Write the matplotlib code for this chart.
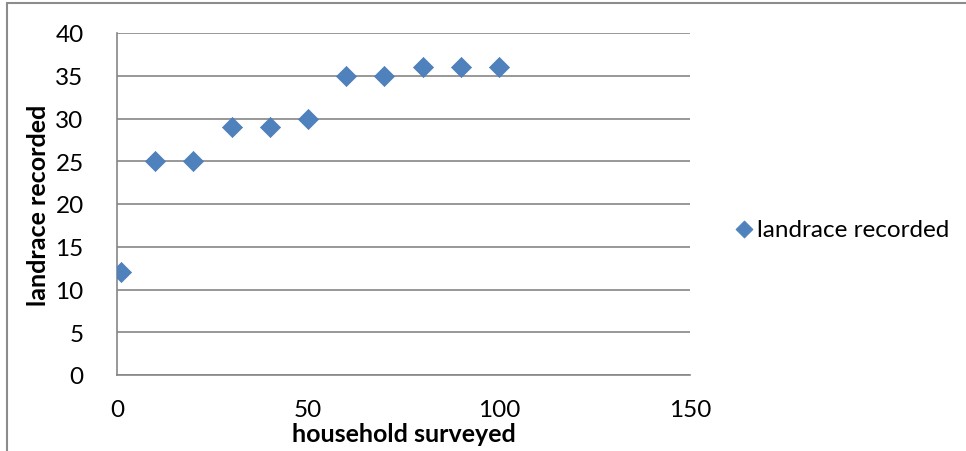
"""Scatter of landraces recorded vs households surveyed (Excel style)."""

import matplotlib
matplotlib.use("Agg")
import matplotlib.pyplot as plt
from matplotlib.patches import Rectangle

households = [1, 10, 20, 30, 40, 50, 60, 70, 80, 90, 100]
landraces = [12, 25, 25, 29, 29, 30, 35, 35, 36, 36, 36]
x_ticks = [0, 50, 100, 150]
y_ticks = [0, 5, 10, 15, 20, 25, 30, 35, 40]

plt.rcParams['font.family'] = ['Lato', 'DejaVu Sans']

fig = plt.figure(figsize=(9.66, 4.52), dpi=100)
ax = fig.add_axes([117 / 966, 1 - 376 / 452, 573 / 966, 342 / 452])

# outer chart border (only left/top visible in the reference)
fig.patches.append(Rectangle((7 / 966, -0.2), 1.2, 1.2 - 4 / 452,
                             transform=fig.transFigure, fill=False,
                             edgecolor='#8c8c8c', linewidth=1.5))

ax.scatter(households, landraces, marker='D', s=105, color='#4F81BD',
           edgecolors='#4A7EBB', linewidths=0.5, zorder=3,
           label='landrace recorded')

ax.set_xlim(0, 150)
ax.set_ylim(0, 40)
ax.set_xticks(x_ticks)
ax.set_yticks(y_ticks)
ax.tick_params(axis='both', length=0, labelsize=17.5, colors='black')
ax.tick_params(axis='x', pad=17)
ax.tick_params(axis='y', pad=24)

ax.grid(axis='y', color='#868686', linewidth=1.2)
ax.set_axisbelow(True)
for side in ['top', 'right']:
    ax.spines[side].set_visible(False)
for side in ['left', 'bottom']:
    ax.spines[side].set_color('#868686')
    ax.spines[side].set_linewidth(1.2)

ax.set_xlabel("household surveyed", fontsize=18, fontweight='bold', labelpad=2)
ax.set_ylabel("landrace recorded", fontsize=18, fontweight='bold', labelpad=4)

fig.legend(loc='center left', bbox_to_anchor=(722 / 966, 1 - 230 / 452),
           frameon=False, fontsize=17.5, handletextpad=0.15, borderpad=0,
           handlelength=0.8, markerscale=0.85)

plt.savefig("out.png", dpi=100)
